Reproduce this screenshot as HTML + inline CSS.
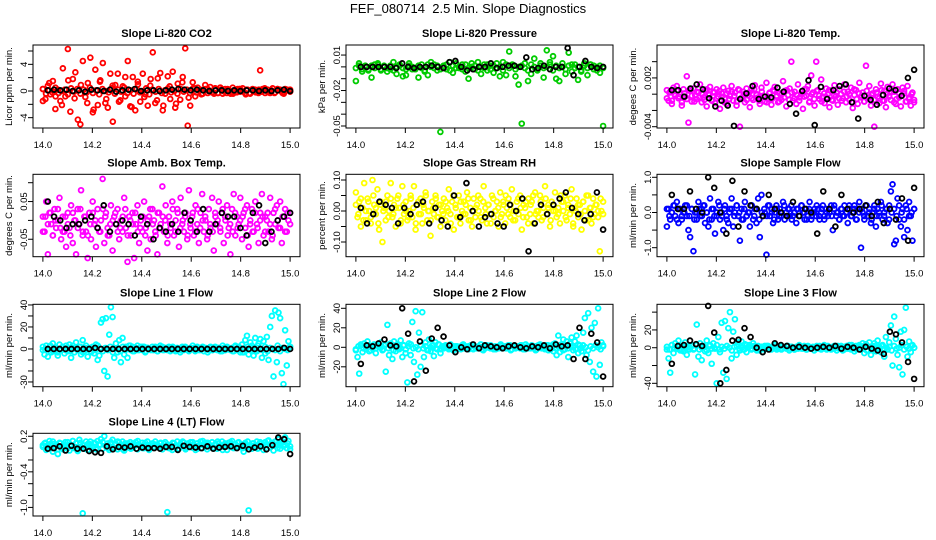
<!DOCTYPE html>
<html><head><meta charset="utf-8"><style>
body{margin:0;background:#fff}
svg{display:block;font-family:"Liberation Sans",Arial,sans-serif}
</style></head><body>
<svg id="chart" width="936" height="540" viewBox="0 0 936 540">
<rect width="936" height="540" fill="#fff"/>
<text x="468" y="13" font-size="13" text-anchor="middle" xml:space="preserve">FEF_080714  2.5 Min. Slope Diagnostics</text>
</svg>
<script>
// ---- data ----
const xTicks = [14.0, 14.2, 14.4, 14.6, 14.8, 15.0];
const xTickLabels = ["14.0", "14.2", "14.4", "14.6", "14.8", "15.0"];

const co2Red = [0.3,-1.2,0.8,-0.5,1.5,-2.7,0.2,-1.5,3.4,-0.8, 6.3,-3.1,1.8,2.8,-4.3,-5,4.5,-0.9,1.2,5, -3.2,3.2,-2.1,1.6,4.2,-1.8,-2.5,2.6,-4.6,0.9, 2.6,-1.4,0.7,-0.8,4.5,-2.3,2.1,-2.9,1.4,-1.6, 2.6,-0.5,-2.2,0.8,5.8,-1.8,1.9,2.7,-2.9,-0.4, 2.2,-1.2,2.9,-2.5,1.1,-1.3,2.1,6.4,-5.2,-2.2, 1.3,-0.8,0.5,0.2,-0.4,0.9,-0.3,0.6,-0.2,0.4, -0.3,0.5,-0.4,0.3,0.2,-0.3,0.5,-0.2,0.3,-0.1, 0.4,-0.3,0.2,-0.4,0.3,0.2,-0.2,3.1,0.3,-0.3, 0.2,-0.3,0.4,-0.2,0.3,0.2,-0.3,0.3,0.1,0.0];
const co2Core = [0.3,-0.4,0.1,-0.2,0.5,-0.3,0,0.2,-0.5,0.4,-0.1,0.3,-0.4,0.2,-0.2,0.5,-0.3,0.1,-0.5,0.3,0,-0.2,0.4,-0.4,0.2,-0.1,0.5,-0.3,0.1,-0.4,0.3,-0.2,0,0.4,-0.5,0.2,-0.1,0.3,-0.3,0.1,0.4,-0.2,0,-0.4,0.3,-0.1,0.2,-0.3,0.4,-0.2,0.1,-0.4,0.3,0,-0.2,0.4,-0.3,0.2,-0.1,0.3,-0.4,0.1,-0.2,0.3,-0.1,0.2,-0.3,0.1,-0.2,0.2,-0.1,0.3,-0.2,0.1,-0.3,0.2,0,-0.1,0.2,-0.1];
const co2Scatter = [-1.5,1.2,-0.8,-2.1,1.6,-1.1,0.9,-1.8,-2.8,1.4,-1.2,0.8,-1.6,2.1,-2.4,1.0,-0.9,1.8,-1.4,-2.2,0.7,-1.9,1.3,-1.0,0.4,-0.5,0.3,-0.4,0.5,-0.3,-0.4,0.3,-0.5,0.2,-0.3,0.4,-0.2,0.3,-0.4,0.2];
const co2Black = [0.1,0.2,0.1,0.2,0,0.1,-0.1,0.2,0.1,0,0.2,-0.1,0.1,0.2,0.3,0,0.1,0.1,0,0.1,0.2,0.3,0.2,0.1,0.2,0.1,0,0.1,0.1,0,0.1,0,0.1,0.1,0,0.1,0,0.1,0.2,0];

const presGreen = [-0.012,0.003,-0.004,0.001,-0.002,-0.009,0.002,0.003,-0.003,0.001, -0.004,-0.002,0.004,-0.006,0.001,-0.008,-0.007,0.003,-0.002,-0.001, -0.009,0.002,-0.004,-0.007,0.004,0.002,-0.003,-0.055,0.001,-0.002, 0.004,-0.005,0.003,-0.001,0.002,-0.004,-0.010,0.003,-0.002,0.004, -0.006,0.002,-0.003,0.001,-0.005,0.003,-0.008,0.004,-0.007,0.013, 0.002,-0.008,-0.015,-0.048,0.003,-0.012,-0.006,0.007,-0.003,0.003, -0.009,0.014,0.004,0.009,-0.010,-0.012,0.003,-0.006,0.012,-0.004, 0.002,-0.011,-0.004,0.003,-0.007,0.002,0.001,-0.003,-0.005,-0.050];
const presCore = [-0.001,0.001,-0.002,0,-0.003,0.001,-0.001,0.002,-0.002,0,-0.001,0.001,-0.003,0,0.002,-0.001,-0.002,0.001,0,-0.002,0.001,-0.001,-0.003,0.002,0,-0.001,0.001,-0.002,0,0.002,-0.003,0.001,-0.001,0,-0.002,0.002,-0.001,0,0.001,-0.003,0,-0.001,0.002,-0.002,0.001,-0.001,0,-0.003,0.002,-0.001,0.001,-0.002,0,0.001,-0.001,-0.003,0.002,0,-0.002,0.001,-0.001,0,0.002,-0.003,0.001,-0.001,0,-0.002,0.001,0.002,-0.001,0,-0.003,0.001,-0.001,0.002,-0.002,0,0.001,-0.001];
const presBlack = [0,0,0,0,0,0,-0.001,0.003,0,-0.001,0,0,0.001,0,-0.001,0.004,0.005,0,-0.003,-0.002,0,0,0.003,-0.001,0,0.001,0.001,0,0.008,-0.002,-0.001,0.001,-0.002,0,0,0.016,-0.007,0,0.005,0,-0.001,0];

const tempMagenta = [5,-8,3,-12,8,-2,10,-5,0,-14,6,-3,22,-35,4, -9,7,-1,-6,2,12,-10,-4,5,-15,0,9,-7,3,-11, 6,-3,-18,1,8,-6,-12,4,-2,10,-8,2,-14,6,-40, -5,3,-10,7,-1,-16,5,-7,11,0,-4,-12,8,-2,-9, 14,-6,2,-13,5,9,-3,-10,1,-7,16,4,-15,-1,7, 40,-8,3,-12,12,-4,0,-18,6,-2,10,-9,23,2,-14, 40,5,-6,18,-3,-11,7,0,-16,4,-8,11,-2,-13,6, 0,-5,12,-10,3,-7,8,-17,-1,5,-12,14,-4,2,-9, 35,-6,10,-14,1,-40,6,-3,-11,13,-8,4,-16,9,-2, -7,12,3,-12,6,-4,-15,8,1,-9,10,-6,-14,2,-10];
const tempCore = [-5,2,-8,0,4,-3,-10,1,-6,5,-2,-9,3,-4,0,-7,6,-1,-8,2,-5,4,-3,-10,1,-6,3,-2,-9,5,-4,0,-7,2,-5,6,-1,-8,3,-3,-10,1,-6,4,-2,-9,0,-4,5,-7,2,-5,-1,-8,3,-3,6,-10,0,-6,4,-2,-9,1,-4,5,-7,-1,2,-5,-8,3,-3,0,-10,6,-6,1,-2,-9,4,-4,-1,-7,2,-5,5,-8,0,-3,3,-10,-6,1,-2,4,-9,-4,0,-7];
const tempBlack = [5,5,-3,7,12,6,-5,-15,-8,-14,-39,-6,1,10,-6,-3,-4,8,3,-12,-24,4,17,-38,9,-6,5,10,12,-10,-30,-2,-7,-13,-1,7,5,-2,20,30];

const ambMagenta = [1,-3,5,-9,2,-1,-4,3,-2,0,6,-5,1,-3,-7, 2,-2,4,-6,0,-9,3,-1,8,-4,1,-3,-10,2,-5, 5,-1,-7,3,-3,0,11,-6,2,-2,-4,4,-8,1,-1, 3,-5,0,-3,6,-2,-11,1,-4,2,-10,-1,4,-6,0, -3,5,-2,-8,1,-5,3,0,-4,-9,2,-1,9,-3,4, -6,1,-2,5,-4,0,3,-7,6,-1,-3,2,-5,8,-2, 1,-4,4,-1,-6,2,7,-3,0,-5,3,-2,6,-8,1, -1,5,-3,2,-6,0,4,-2,-9,3,7,-4,1,-1,6, -5,2,-2,4,-7,0,3,-3,5,-1,-6,2,7,-4,1, 0,-3,6,-5,2,-1,4,-2,5,-6,1,3,-3,0,2];
const ambCore = [-3,1,-1,2,-4,0,3,-2,-3,1,-1,-4,2,0,-2,3,-3,1,-4,-1,2,0,-2,-3,3,1,-4,-1,0,2,-3,-2,1,3,-4,0,-1,2,-3,-2,1,-4,0,3,-1,-3,2,-2,1,0,-4,-1,3,-3,2,-2,0,1,-4,-1,2,-3,3,-2,0,1,-4,-1,-3,2,0,-2,3,1,-4,-1,-3,2,-2,0,1,3,-4,-1,-3,2,-2,0,1,-3,2,-1,-4,3,0,-2,1,-3,2,-1];
const ambBlack = [5,1,0,-2,-1,-1,0,1,-2,4,-3,-1,0,-1,-4,1,-1,-5,-2,-3,-1,-3,2,0,-3,3,-3,-1,2,1,1,-2,-4,2,4,-6,-3,0,1,2];

const rhYellow = [6,-2,3,-5,1,9,-3,4,0,-4,10,2,-1,7,-6, 3,-10,1,-3,5,0,9,-2,2,-5,4,1,-4,8,-1, 3,-3,0,5,-2,8,-6,2,-1,4,-4,1,6,-3,0, -8,3,-1,5,-2,2,-5,0,4,-3,1,7,-1,3,-6, 2,-2,5,-4,0,3,-1,6,-3,1,-5,4,-2,2,0, 4,-3,8,1,-4,2,-1,5,-2,0,3,-5,6,-1,2, -4,1,4,-2,7,0,-3,3,-1,5,-6,2,1,-2,4, -1,3,-4,6,0,-2,5,-3,1,8,-1,2,-5,3,0, 6,-2,1,-4,3,0,5,-3,2,-1,7,-5,1,4,-2, 2,-6,3,0,5,-3,1,-4,4,-1,2,-2,-13,0,3];
const rhCore = [2,-1,4,-3,0,3,-2,5,1,-4,2,0,3,-2,4,-1,1,5,-3,2,0,-2,4,1,-4,3,-1,2,5,0,-3,1,4,-2,2,-1,3,0,-4,5,1,-2,3,-1,2,4,-3,0,1,5,-2,3,-1,2,-4,4,0,1,-2,3,5,-1,2,-3,0,4,1,-2,3,-4,2,5,-1,0,3,-2,4,1,-3,2,0,-1,5,3,-2,1,4,-4,0,2,-1,3,-3,5,1,-2,2,0,4,-1];
const rhBlack = [1,-4,-1,3,2,1,-4,1,-1,2,3,-4,1,-3,-5,5,-2,9,0,-5,-2,-1,-4,-5,2,0,4,-13,-4,2,-1,2,4,6,1,-1,-3,-1,6,-6];

const sampleBlue = [-4,1,-2,0,2,-1,3,-3,1,-2,0,2,-1,-5,-7, 1,-11,0,-2,3,-1,1,2,-3,0,-4,4,-2,1,-6, -1,3,-2,0,-5,2,-1,-3,1,4,-4,0,2,-1,-8, 1,-2,3,-1,0,-4,2,-2,1,-3,4,-7,5,-1,0, -12,2,-1,1,-3,0,2,-2,1,-1,3,-2,0,1,-1, 2,-1,0,-3,1,-1,2,0,-2,1,-1,3,-2,0,1, -1,1,-2,0,2,-1,1,-1,0,2,-5,1,-1,0,-2, 1,-1,2,0,-3,1,-1,0,2,-2,1,3,-10,0,-2, 2,-1,1,-3,0,2,-4,1,-1,3,-2,0,1,-3,2, 6,8,-9,-8,4,-2,-4,1,-7,2,-5,3,-1,-8,1];
const sampleCore = [1,-1,0,2,-2,1,-1,0,2,-1,1,-2,0,1,-1,2,0,-2,1,-1,0,2,-1,1,-2,0,1,-1,2,0,-2,1,-1,0,2,-1,1,-2,0,1,-1,2,0,-2,1,-1,0,2,-1,1,-2,0,1,-1,2,0,-2,1,-1,0,2,-1,1,-2,0,1,-1,2,0,-2,1,-1,0,2,-1,1,-2,0,1,-1,2,0,-2,1,-1,0,2,-1,1,-2,0,1,-1,2,0,-2,1,-1,0,1];
const sampleBlack = [5,1,1,6,1,0,10,7,0,-6,9,-4,6,2,1,-1,5,1,0,-1,3,-1,1,0,-6,6,1,-4,5,1,0,1,2,-1,3,-3,1,-2,4,-8,7];

const line1Cyan = [-1,-5,3,-7,2,-3,5,-2,1,-6,4,-1,2,-4,3, -2,4,-8,1,-3,6,-1,2,-5,8,-2,3,-7,1,-3, 2,-4,4,-10,-6,24,27,-20,28,-25,13,38,29,-8,5, -3,8,-12,10,-5,2,-8,3,-1,2,-2,1,3,-1,2, -1,2,-2,1,0,-1,2,-1,1,-2,1,0,2,-1,1, -1,2,0,-1,1,-2,1,0,-1,2,-1,1,0,-2,1, 0,1,-1,2,-1,0,1,-2,1,0,-1,2,-1,1,0, -1,1,0,-2,1,-1,2,0,-1,1,-2,3,-1,2,-3, 4,-3,8,12,-5,6,3,-6,10,-2,5,9,-8,7,-4, 11,-10,20,30,-25,35,-12,33,28,-22,-32,17,-15,7,2];
const line1Core = [2,-1,0,3,-2,1,-3,0,2,-1,1,-2,3,0,-1,2,-3,1,0,-2,2,-1,3,0,-2,1,-1,2,-3,0,1,-2,2,-1,0,3,-2,1,-1,0,2,-3,1,0,-1,2,-2,3,-1,0,1,-2,2,-1,0,-3,1,2,-1,0,3,-2,1,-1,2,0,-3,1,-1,2,0,-2,3,-1,1,0,-2,2,-1,1,-3,0,2,-1,1,-2,3,0,-1,2,-2,1,0,-1,3,-2,1,0,-1,2];
const line1Black = [0,0,0,0,0,0,0,0,1,0,0,0,0,0,0,0,0,0,0,0,0,0,0,0,0,0,0,0,0,0,0,0,0,0,0,0,0,0,0,0,1,0];

const line2Cyan = [-3,-10,-27,2,-5,4,-2,6,-4,1,-1,3,-6,2,0, 5,-3,2,-25,23,-8,4,-12,6,-4,3,-2,7,-10,2, -6,-36,4,-8,26,-15,37,-28,15,-20,36,-10,5,-3,8, -4,2,-9,5,-2,3,-6,1,-1,2,0,-2,3,-1,1, -2,1,0,-1,2,-1,1,0,-2,1,-1,2,0,-1,1, 0,-2,1,-1,2,0,-1,1,-2,1,0,-1,2,-1,0, 1,-1,0,2,-2,1,-1,0,1,-1,2,0,-2,1,-1, 0,2,-1,1,-2,0,3,-1,1,-2,2,-3,1,0,-4, 4,-8,12,-5,3,8,-2,6,-10,4,10,-3,6,12,-6, 2,-4,15,30,-8,35,-15,20,-25,25,-30,40,-18,5,2];
const line2Core = [-2,1,3,-1,0,2,-3,1,-1,2,0,-2,3,-1,1,-3,2,0,-1,2,-2,1,3,-1,0,-2,2,-1,1,-3,0,2,-1,3,-2,0,1,-1,2,-3,1,0,-2,3,-1,1,2,-2,0,-1,3,-3,1,0,2,-1,-2,1,3,0,-1,2,-3,1,-1,0,2,-2,3,1,-1,0,-3,2,1,-1,0,2,-2,3,-1,1,0,-3,2,-1,1,0,-2,3,-1,2,0,-3,1,-1,2,0,-2,1];
const line2Black = [-17,2,1,4,8,2,1,40,14,-35,6,-24,9,20,11,2,-5,0,-2,3,-1,2,1,0,-1,1,2,0,-1,1,0,2,-1,3,1,2,-12,20,-12,14,5,-30];

const line3Cyan = [-2,-12,-28,3,-6,5,-1,8,-3,2,-4,6,-8,1,0, 3,-2,-30,26,-10,5,-14,2,-4,8,-6,3,-18,5,-1, -40,12,-5,28,-28,30,-35,22,40,-12,18,32,-8,6,-3, 7,-2,4,-5,1,3,-2,5,0,-1,2,-3,1,0,2, -1,2,0,-2,1,3,-1,0,2,-2,1,0,-1,2,-1, 1,0,-2,1,-1,2,0,-1,1,-2,2,0,-1,1,0, -1,1,2,-2,0,1,-1,2,0,-2,1,-1,0,2,-1, 2,-3,1,0,-1,3,-2,1,-4,2,0,3,-2,5,-6, 4,-3,6,-8,2,5,-4,8,1,-5,3,-10,12,-2,6, 25,-20,35,10,-8,-22,18,-30,20,45,-10,7,-5,3,0];
const line3Core = [1,-2,3,0,-1,2,-3,1,0,-2,2,-1,3,-2,0,1,-3,2,-1,0,3,-2,1,-1,2,0,-3,1,2,-1,0,-2,3,1,-1,2,-3,0,1,-2,2,-1,0,3,-2,1,-1,0,2,-3,1,-2,0,3,-1,2,-2,1,0,-3,2,-1,1,3,-2,0,-1,2,-3,1,0,-2,2,-1,3,0,-2,1,-1,2,-3,1,0,-1,3,-2,2,-1,0,1,-3,2,-1,0,3,-2,1,-1,2,0];
const line3Black = [-18,2,3,8,4,2,47,17,-40,-25,8,9,22,12,0,-5,-2,5,3,2,0,1,0,-1,0,1,0,2,-1,1,0,-2,1,-1,-3,-7,18,15,6,-16,-35];

const line4Cyan = [0.02,0.08,-0.03,0.05,0.12,0,-0.06,0.07,0.03,-0.10,0.09,0.01,-0.02,0.06,0.04, 0.10,-0.04,0.03,0.12,0,0.08,-0.05,0.14,0.02,-1.10,-0.01,0.11,-0.03,0.07,0.05, 0.01,0.09,-0.02,0.12,0.06,0.15,-0.01,0.20,0.04,0.08,-0.03,0.10,0.14,0,0.06, -0.02,0.09,0.03,0.11,-0.04,0.05,0.08,0.01,-0.01,0.07,0.03,0.10,-0.02,0.06,0.02, 0.09,0,0.05,0.11,-0.03,0.04,0.08,0.02,0.06,0.06,0.01,0.09,-0.02,0.07,0.03, -1.08,0,0.05,-0.03,0.08,0.02,0.11,-0.01,0.06,0.04,0.09,-0.02,0.07,0.03,0.10, 0.01,0.06,-0.03,0.08,0.04,0.11,0,0.05,0.09,-0.02,0.07,0.03,0.10,0.01,0.06, -0.01,0.08,0.04,0.11,0.02,0.06,-0.03,0.09,0.05,0.12,0,0.07,0.03,0.10,0.04, 0.06,-0.06,0.09,0.02,-1.05,0.05,-0.01,0.08,0.03,0.11,0,0.07,0.04,-0.03,0.10, 0.06,0.13,0.02,0.08,-0.04,0.11,0.05,0.15,-0.01,0.09,0.03,0.18,0,0.12,-0.02];
const line4Core = [0.05,0.09,0.01,0.07,0.11,0.03,-0.02,0.08,0.04,0.10,0,0.06,0.12,0.02,-0.03,0.09,0.05,0.01,0.07,0.11,0.03,0.08,-0.01,0.06,0.10,0.04,0,0.09,0.02,0.07,0.11,0.05,-0.02,0.08,0.03,0.10,0.01,0.06,0.12,0.04,0,0.09,0.05,-0.01,0.07,0.11,0.02,0.08,0.03,0.10,0.06,0,0.09,0.04,-0.02,0.07,0.11,0.01,0.08,0.05,0.10,0.03,-0.01,0.06,0.12,0.02,0.09,0.04,0,0.07,0.11,0.05,-0.03,0.08,0.03,0.10,0.01,0.06,0.09,0.04,0,0.07,0.11,0.02,0.08,0.05,-0.01,0.10,0.03,0.06,0.12,0.01,0.09,0.04,0,0.07,0.11,0.05,0.08,0.03];
const line4Black = [-0.01,0,0.03,-0.04,0.04,-0.01,-0.01,-0.05,-0.07,-0.08,0.03,-0.02,0.02,0.01,0.03,-0.01,0.01,0,0,-0.01,0.02,0.02,-0.03,0.04,0.02,0.01,0,0.03,-0.01,0.01,0.02,0.03,0,0.04,-0.02,0.01,0.03,-0.02,0.05,0.18,0.15,-0.10];

// ---- tick definitions ----
const co2Ticks = [-4,-2,0,2,4,6];           const co2Labels = ["-4","","0","","4",""];
const presTicks = [0.01,0,-0.01,-0.02,-0.03,-0.04,-0.05]; const presLabels = ["0.01","","","-0.02","","","-0.05"];
const tempTicks = [0.004,0.002,0,-0.002,-0.004]; const tempLabels = ["","0.002","","","-0.004"];
const ambTicks = [0.1,0.05,0,-0.05];        const ambLabels = ["","0.05","","-0.05"];
const rhTicks = [0.1,0.05,0,-0.05,-0.1];    const rhLabels = ["0.10","","0.00","","-0.10"];
const sampleTicks = [1,0.5,0,-0.5,-1];      const sampleLabels = ["1.0","","0.0","","-1.0"];
const line1Ticks = [40,30,20,10,0,-10,-20,-30]; const line1Labels = ["40","","20","","0","","","-30"];
const line2Ticks = [40,20,0,-20];           const line2Labels = ["40","20","0","-20"];
const line3Ticks = [40,20,0,-20,-40];       const line3Labels = ["","20","0","","-40"];
const line4Ticks = [0.2,0,-0.2,-0.4,-0.6,-0.8,-1.0]; const line4Labels = ["0.2","","","-0.4","","","-1.0"];

const cols = [[33,300],[346,613],[657,924]];
const rows = [[45,128],[174.3,256.7],[304.3,386.7],[433.3,516]];

const panels = [
 {id:"co2",title:"Slope Li-820 CO2",ylab:"Licor ppm per min.",c:0,r:0,ylo:-5.55,yhi:6.9,ticks:co2Ticks,labels:co2Labels,color:"#ff0000",series:[co2Red,co2Scatter,co2Core],black:co2Black},
 {id:"pressure",title:"Slope Li-820 Pressure",ylab:"kPa per min.",c:1,r:0,ylo:-0.0517,yhi:0.0185,ticks:presTicks,labels:presLabels,color:"#00cc00",series:[presGreen,presCore],black:presBlack},
 {id:"temp",title:"Slope Li-820 Temp.",ylab:"degees C per min.",c:2,r:0,ylo:-0.00416,yhi:0.00605,ticks:tempTicks,labels:tempLabels,color:"#ff00ff",series:[tempMagenta,tempCore],black:tempBlack,unit:1e-4},
 {id:"amb-temp",title:"Slope Amb. Box Temp.",ylab:"degrees C per min.",c:0,r:1,ylo:-0.0963,yhi:0.1223,ticks:ambTicks,labels:ambLabels,color:"#ff00ff",series:[ambMagenta,ambCore],black:ambBlack,unit:0.01},
 {id:"rh",title:"Slope Gas Stream RH",ylab:"percent per min.",c:1,r:1,ylo:-0.1474,yhi:0.1184,ticks:rhTicks,labels:rhLabels,color:"#ffff00",series:[rhYellow,rhCore],black:rhBlack,unit:0.01},
 {id:"sample-flow",title:"Slope Sample Flow",ylab:"ml/min per min.",c:2,r:1,ylo:-1.256,yhi:1.085,ticks:sampleTicks,labels:sampleLabels,color:"#0000ff",series:[sampleBlue,sampleCore],black:sampleBlack,unit:0.1},
 {id:"line1",title:"Slope Line 1 Flow",ylab:"ml/min per min.",c:0,r:2,ylo:-34.3,yhi:40.6,ticks:line1Ticks,labels:line1Labels,color:"#00ffff",series:[line1Cyan,line1Core],black:line1Black},
 {id:"line2",title:"Slope Line 2 Flow",ylab:"ml/min per min.",c:1,r:2,ylo:-40.4,yhi:44.1,ticks:line2Ticks,labels:line2Labels,color:"#00ffff",series:[line2Cyan,line2Core],black:line2Black},
 {id:"line3",title:"Slope Line 3 Flow",ylab:"ml/min per min.",c:2,r:2,ylo:-43.8,yhi:48.8,ticks:line3Ticks,labels:line3Labels,color:"#00ffff",series:[line3Cyan,line3Core],black:line3Black},
 {id:"line4",title:"Slope Line 4 (LT) Flow",ylab:"ml/min per min.",c:0,r:3,ylo:-1.145,yhi:0.25,ticks:line4Ticks,labels:line4Labels,color:"#00ffff",series:[line4Cyan,line4Core],black:line4Black}
];

const NS = "http://www.w3.org/2000/svg";
const svg = document.getElementById("chart");
function mk(tag, attrs, parent){
  const e = document.createElementNS(NS, tag);
  for (const k in attrs) e.setAttribute(k, attrs[k]);
  (parent||svg).appendChild(e);
  return e;
}

panels.forEach(p => {
  const L = cols[p.c][0], R = cols[p.c][1], T = rows[p.r][0], B = rows[p.r][1];
  const unit = p.unit || 1;
  const xs = v => L + (v - 13.96) / 1.08 * (R - L);
  const ys = v => B - (v - p.ylo) / (p.yhi - p.ylo) * (B - T);
  const g = mk("g", {});
  
  

  const title = mk("text", {x:(L+R)/2, y:T-8, "font-size":11, "font-weight":"bold", "text-anchor":"middle"}, g);
  title.textContent = p.title;
  
  

  const yl = mk("text", {x:0, y:0, "font-size":9.5, "text-anchor":"middle", transform:`translate(${L-21},${(T+B)/2}) rotate(-90)`}, g);
  yl.textContent = p.ylab;
  
  

  const pts = mk("g", {fill:"none", "stroke-width":1.8}, g);
  
  
  p.series.forEach(arr => {
    arr.forEach((v, i) => {
      const c = mk("circle", {cx:xs(14 + i/(arr.length-1)), cy:ys(v*unit), r:2.4, stroke:p.color}, pts);
      
      
    });
  });
  p.black.forEach((v, i) => {
    const c = mk("circle", {cx:xs(14.02 + 0.98*i/(p.black.length-1)), cy:ys(v*unit), r:2.4, stroke:"#000"}, pts);
    
    
  });

  const box = mk("rect", {x:L, y:T, width:R-L, height:B-T, fill:"none", stroke:"#000", "stroke-width":1}, g);
  
  

  const xa = mk("g", {}, g);
  
  
  xTicks.forEach((t, i) => {
    mk("line", {x1:xs(t), x2:xs(t), y1:B, y2:B+5, stroke:"#000"}, xa);
    const tl = mk("text", {x:xs(t), y:B+20, "font-size":9.5, "text-anchor":"middle"}, xa);
    tl.textContent = xTickLabels[i];
    
    
  });

  const ya = mk("g", {}, g);
  
  
  p.ticks.forEach((t, i) => {
    mk("line", {x1:L-5, x2:L, y1:ys(t), y2:ys(t), stroke:"#000"}, ya);
    if (p.labels[i]) {
      const tl = mk("text", {x:0, y:0, "font-size":9.5, "text-anchor":"middle", transform:`translate(${L-6},${ys(t)}) rotate(-90)`}, ya);
      tl.textContent = p.labels[i];
      
      
    }
  });
});
</script>
</body></html>
